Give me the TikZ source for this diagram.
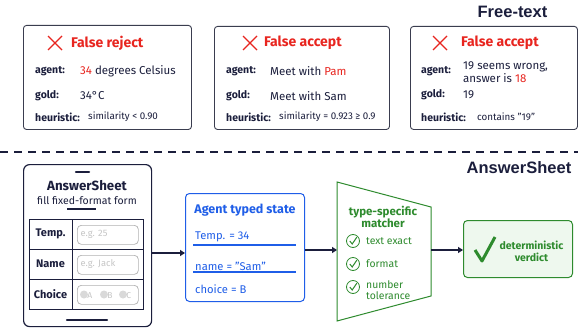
\documentclass[tikz,border=0pt]{standalone}
\usepackage{fontspec}
\setmainfont{Fira Sans}
\newfontfamily\titlefont{Liberation Sans}
\usetikzlibrary{arrows.meta}
\definecolor{navy}{HTML}{1B1E3C}
\definecolor{myred}{HTML}{E8251F}
\definecolor{myblue}{HTML}{1F5EE8}
\definecolor{mygreen}{HTML}{2E8B2E}
\definecolor{lgreen}{HTML}{EEF8EE}
\definecolor{cardborder}{HTML}{3A3D4F}
\tikzset{
  card/.style={draw=cardborder, line width=0.9pt, rounded corners=3pt, fill=white, anchor=north west, inner sep=0pt},
  lbl/.style={anchor=west, inner sep=0pt, text=navy, font=\bfseries\fontsize{10.5}{12}\selectfont},
  val/.style={anchor=west, inner sep=0pt, text=navy, font=\fontsize{11.5}{13}\selectfont},
  small/.style={anchor=west, inner sep=0pt, text=navy, font=\fontsize{9.8}{11}\selectfont},
  head/.style={anchor=west, inner sep=0pt, text=myred, font=\bfseries\fontsize{14}{16}\selectfont},
  xmark/.style={draw=myred, line width=1.2pt},
  ttl/.style={inner sep=0pt, text=navy, font=\titlefont\bfseries\fontsize{16.5}{18}\selectfont},
  arr/.style={draw=navy, line width=2.2pt, -{Triangle[length=5pt,width=6pt]}},
  rowlbl/.style={inner sep=0pt, text=navy, font=\bfseries\fontsize{11}{13}\selectfont},
  inbox/.style={draw=gray!60, rounded corners=4pt, line width=0.7pt, inner sep=0pt, anchor=north west},
  ph/.style={anchor=west, inner sep=0pt, text=gray!45, font=\fontsize{9.3}{10}\selectfont},
  bluet/.style={anchor=west, inner sep=0pt, text=myblue, font=\fontsize{11.2}{13}\selectfont},
  greent/.style={anchor=west, inner sep=0pt, text=mygreen, font=\fontsize{10.4}{11}\selectfont},
}
\newcommand{\xcross}[2]{\draw[xmark] (#1-7,#2-7) -- (#1+7,#2+7) (#1-7,#2+7) -- (#1+7,#2-7);}
\newcommand{\ccirc}[3]{\node[circle, draw=mygreen, line width=0.8pt, minimum size=13pt, inner sep=0pt] (#3) at (#1,#2) {};
  \draw[mygreen, line width=1pt] (#1-3.2,#2) -- (#1-0.8,#2+3) -- (#1+3.8,#2-3.8);}
\begin{document}
\begin{tikzpicture}[x=1pt,y=-1pt]
\useasboundingbox[fill=white] (0,0) rectangle (578,329);

% titles
\node[ttl] (tfree) at (512.5,12) {Free-text};
\node[ttl] (tans) at (519,168) {AnswerSheet};

% card 1
\node[card, minimum width=168pt, minimum height=104pt] (c1) at (23,25) {};
\xcross{55}{43}
\node[head] (h1) at (71,43) {False reject};
\node[lbl] (a1) at (35,71) {agent:};
\node[val] (av1) at (80,71) {\textcolor{myred}{34} degrees Celsius};
\node[lbl] (g1) at (35,96) {gold:};
\node[val] (gv1) at (80,96) {34°C};
\node[lbl] (u1) at (35,117) {heuristic:};
\node[small] (uv1) at (88,117) {similarity < 0.90};

% card 2
\node[card, minimum width=175pt, minimum height=103pt] (c2) at (214,26) {};
\xcross{250}{43}
\node[head] (h2) at (264,43) {False accept};
\node[lbl] (a2) at (226,71) {agent:};
\node[val] (av2) at (270,71) {Meet with \textcolor{myred}{Pam}};
\node[lbl] (g2) at (226,96) {gold:};
\node[val] (gv2) at (270,96) {Meet with Sam};
\node[lbl] (u2) at (226,117) {heuristic:};
\node[small] (uv2) at (279,117) {similarity = 0.923 ≥ 0.9};

% card 3
\node[card, minimum width=167pt, minimum height=103pt] (c3) at (410,26) {};
\xcross{440}{43}
\node[head] (h3) at (461,43) {False accept};
\node[lbl] (a3) at (421,71) {agent:};
\node[val, align=left] (av3) at (463,72.5) {19 seems wrong,\\answer is \textcolor{myred}{18}};
\node[lbl] (g3) at (421,95) {gold:};
\node[val] (gv3) at (463,95) {19};
\node[lbl] (u3) at (421,117) {heuristic:};
\node[small] (uv3) at (477,117) {contains "19"};

% dashed separator
\coordinate (dl) at (0,152);
\coordinate (dr) at (578,152);
\draw[navy, line width=1.5pt, dash pattern=on 8pt off 6pt] (dl) -- (dr);

% phone
\node[draw=navy, line width=1.2pt, rounded corners=6pt, minimum width=128pt, minimum height=162pt, anchor=north west, inner sep=0pt] (phone) at (23,164) {};
\draw[navy, line width=2.5pt, line cap=round] (76,172) -- (89,172);
\node[inner sep=0pt, text=navy, font=\bfseries\fontsize{13.3}{15}\selectfont] (pt) at (87,186) {AnswerSheet};
\node[inner sep=0pt, text=navy, font=\fontsize{10.5}{12}\selectfont] (ps) at (87,201) {fill fixed-format form};
\draw[navy, line width=1.3pt] (67,209) -- (96,209);
\draw[navy, line width=2.2pt, line cap=round] (67,320) -- (107,320);
% table
\draw[navy, line width=0.9pt] (29,219) rectangle (143,309);
\draw[navy, line width=0.9pt] (29,249) -- (143,249) (29,279) -- (143,279) (72,219) -- (72,309);
\node[rowlbl] (r1) at (50.5,234) {Temp.};
\node[rowlbl] (r2) at (50.5,264) {Name};
\node[rowlbl] (r3) at (50.5,294) {Choice};
\node[inbox, minimum width=61pt, minimum height=19pt] (i1) at (77,225) {};
\node[ph] at (80.5,234.5) {e.g. 25};
\node[inbox, minimum width=61pt, minimum height=19pt] (i2) at (77,255) {};
\node[ph] at (80.5,264.5) {e.g. Jack};
\node[inbox, minimum width=61pt, minimum height=19pt] (i3) at (77,285) {};
\foreach \cx/\lt in {84/A,104/B,123/C}{
  \fill[gray!30] (\cx,294.5) circle (4pt);
  \node[ph, font=\fontsize{8.5}{9}\selectfont] at (\cx+3.2,295.5) {\lt};
}

% blue box
\node[draw=myblue, line width=1pt, rounded corners=4pt, fill=white, minimum width=119pt, minimum height=108pt, anchor=north west, inner sep=0pt] (blue) at (185,193) {};
\node[inner sep=0pt, text=myblue, font=\bfseries\fontsize{12.5}{14}\selectfont] (bt) at (245,210) {Agent typed state};
\node[bluet] (b1) at (195,237) {Temp. = 34};
\draw[myblue, line width=1.2pt] (193,245) -- (296,245);
\node[bluet] (b2) at (195,266) {name = "Sam"};
\draw[myblue, line width=1.2pt] (193,272) -- (296,272);
\node[bluet] (b3) at (195,289) {choice = B};

% trapezoid matcher
\coordinate (tl) at (337,182);
\coordinate (tr) at (431,207);
\coordinate (br) at (431,296);
\coordinate (bl) at (337,321);
\draw[mygreen, line width=1pt, fill=white] (tl) -- (tr) -- (br) -- (bl) -- cycle;
\coordinate (tw) at (337,251);
\coordinate (te) at (431,251);
\node[inner sep=0pt, text=mygreen, align=center, font=\bfseries\fontsize{11.5}{12}\selectfont] (mt) at (383,217) {type-specific\\matcher};
\ccirc{353}{241}{k1}
\node[greent] (m1) at (366,241) {text exact};
\ccirc{353}{264}{k2}
\node[greent] (m2) at (366,264) {format};
\ccirc{353}{287}{k3}
\node[greent, align=left] (m3) at (366,290.5) {number\\tolerance};

% verdict
\node[draw=mygreen, line width=1pt, rounded corners=4pt, fill=lgreen, minimum width=109pt, minimum height=57pt, anchor=north west, inner sep=0pt] (verd) at (463,220) {};
\draw[mygreen, line width=3pt, line join=round] (475,250) -- (482,261) -- (495,237);
\node[inner sep=0pt, text=mygreen, align=center, font=\bfseries\fontsize{10.5}{12}\selectfont] (vt) at (531.5,251) {deterministic\\verdict};

% arrows
\draw[arr] (phone.east |- 0,253) -- (blue.west |- 0,253);
\draw[arr] (blue.east |- 0,250) -- (tw |- 0,250);
\draw[arr] (te |- 0,250) -- (verd.west |- 0,250);
\end{tikzpicture}
\end{document}
